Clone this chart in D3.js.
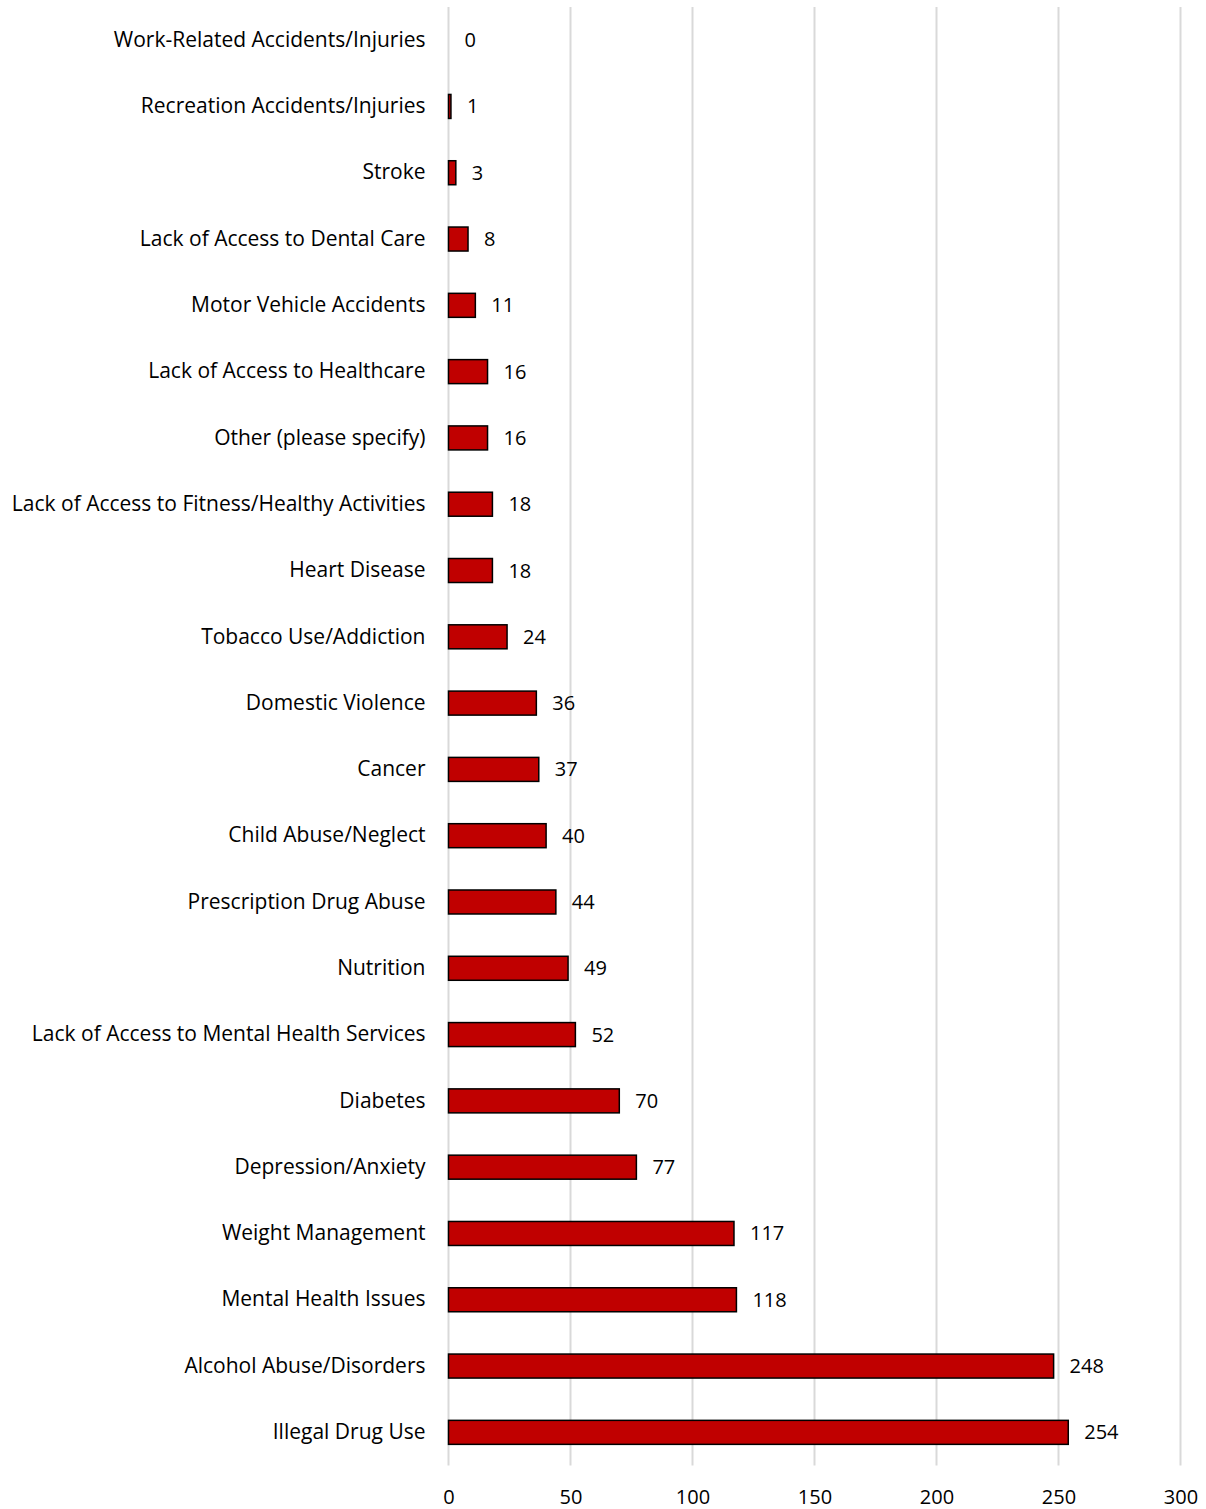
<!DOCTYPE html>
<html>
<head>
<meta charset="utf-8">
<script src="https://cdn.jsdelivr.net/npm/d3@7"></script>
<style>
  html, body { margin: 0; padding: 0; background: #fff; }
  svg text { font-family: "Open Sans", Lato, "Noto Sans", sans-serif; fill: #000; }
</style>
</head>
<body>
<svg id="chart" width="1206" height="1509"></svg>
<script>
// Health concerns, count of responses
const categories = [
  "Work-Related Accidents/Injuries",
  "Recreation Accidents/Injuries",
  "Stroke",
  "Lack of Access to Dental Care",
  "Motor Vehicle Accidents",
  "Lack of Access to Healthcare",
  "Other (please specify)",
  "Lack of Access to Fitness/Healthy Activities",
  "Heart Disease",
  "Tobacco Use/Addiction",
  "Domestic Violence",
  "Cancer",
  "Child Abuse/Neglect",
  "Prescription Drug Abuse",
  "Nutrition",
  "Lack of Access to Mental Health Services",
  "Diabetes",
  "Depression/Anxiety",
  "Weight Management",
  "Mental Health Issues",
  "Alcohol Abuse/Disorders",
  "Illegal Drug Use"
];
const values = [0, 1, 3, 8, 11, 16, 16, 18, 18, 24, 36, 37, 40, 44, 49, 52, 70, 77, 117, 118, 248, 254];
const xTicks = [0, 50, 100, 150, 200, 250, 300];

const svg = d3.select("#chart");
const plotLeft = 448.5, plotRight = 1180.5, plotTop = 7, plotBottom = 1465.5;

const x = d3.scaleLinear().domain([0, 300]).range([plotLeft, plotRight]);
const y = d3.scaleBand().domain(categories).range([plotTop, plotBottom]).paddingInner(0.638).paddingOuter(0.319);

// vertical gridlines
svg.append("g")
  .selectAll("line")
  .data(xTicks)
  .join("line")
  .attr("x1", d => x(d)).attr("x2", d => x(d))
  .attr("y1", plotTop).attr("y2", plotBottom)
  .attr("stroke", "#d9d9d9")
  .attr("stroke-width", 2);

// x-axis tick labels
const xAxis = d3.axisBottom(x).tickValues(xTicks).tickSize(0).tickPadding(0);
const gx = svg.append("g").attr("transform", `translate(0,${plotBottom})`).call(xAxis);
gx.select(".domain").remove();
gx.selectAll("text")
  .attr("y", 31)
  .attr("dy", "0.35em")
  .attr("font-size", 20);

// category labels
const yAxis = d3.axisLeft(y).tickSize(0).tickPadding(0);
const gy = svg.append("g").attr("transform", `translate(${plotLeft - 23},0)`).call(yAxis);
gy.select(".domain").remove();
gy.selectAll("text")
  .attr("font-size", 21);
gx.attr("font-family", null).attr("font-size", null);
gy.attr("font-family", null).attr("font-size", null);

// bars
svg.append("g")
  .selectAll("rect")
  .data(values)
  .join("rect")
  .attr("x", x(0))
  .attr("y", (d, i) => y(categories[i]))
  .attr("width", d => x(d) - x(0))
  .attr("height", y.bandwidth())
  .attr("fill", "#c00000")
  .attr("stroke", d => d > 0 ? "#000" : "none")
  .attr("stroke-width", 1.5);

// value labels
svg.append("g")
  .selectAll("text")
  .data(values)
  .join("text")
  .attr("x", d => x(d) + 16)
  .attr("y", (d, i) => y(categories[i]) + y.bandwidth() / 2)
  .attr("dy", "0.35em")
  .attr("font-size", 20)
  .text(d => d);
</script>
</body>
</html>
